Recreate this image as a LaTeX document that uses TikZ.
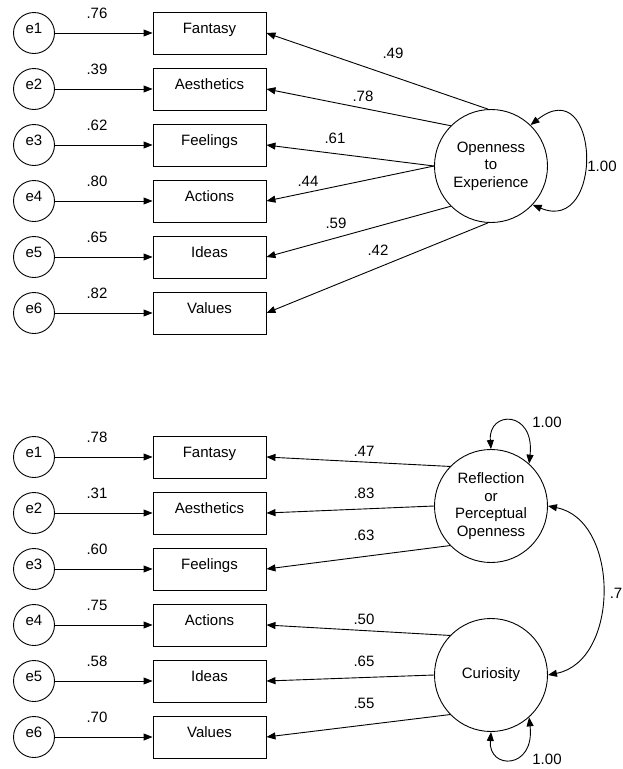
\documentclass[tikz,border=0pt]{standalone}
\usepackage{fontspec}
\setmainfont{Liberation Sans}
\usetikzlibrary{arrows.meta}

\begin{document}
\begin{tikzpicture}[x=1pt,y=-1pt,line width=0.9pt,
  >={Triangle[length=9pt,width=7pt]},
  font=\fontsize{15}{17.5}\selectfont,
  err/.style={circle,draw,minimum size=41pt,inner sep=0pt,text height=9pt,text depth=8pt},
  obs/.style={rectangle,draw,minimum width=113pt,minimum height=42pt,inner sep=0pt,text height=9pt,text depth=8pt},
  lat/.style={circle,draw,minimum size=113pt,inner sep=0pt,align=center}]
\useasboundingbox (0,0) rectangle (622,769);
%\draw[help lines,step=20](0,0)grid(622,769);
% one factor model
\node[lat] (open) at (491,166) {Openness\\to\\Experience};
\foreach \i/\lbl/\e/\lam/\ang/\lx/\ly in {1/Fantasy/.76/.49/93/393/53,2/Aesthetics/.39/.78/135/363/96,3/Feelings/.62/.61/180/335/138,4/Actions/.80/.44/180/308/181,5/Ideas/.65/.59/225/336/223,6/Values/.82/.42/267/378/250}{
  \node[err] (te\i) at (34,{33+56*(\i-1)}) {e\i};
  \node[obs] (tv\i) at (209.5,{33+56*(\i-1)}) {\lbl};
  \node (tel\i) at (97,{13+56*(\i-1)}) {\e};
  \draw[->] (te\i)--(tv\i);
  \draw[->] (open.\ang)--(tv\i.east);
  \node (tll\i) at (\lx,\ly) {\lam};
}
\draw[<->] (open.-43) .. controls (605,235) and (600,70) .. (open.46);
\node (tvar) at (602,166) {1.00};
% two factor model
\node[lat] (refl) at (491,506) {Reflection\\or\\Perceptual\\Openness};
\node[lat] (cur) at (491,675) {Curiosity};
\foreach \i/\lbl/\e/\lam/\fac/\ang/\ly in {1/Fantasy/.78/.47/refl/136/451,2/Aesthetics/.31/.83/refl/180/493,3/Feelings/.60/.63/refl/224/535,4/Actions/.75/.50/cur/136/619,5/Ideas/.58/.65/cur/180/661,6/Values/.70/.55/cur/224/703}{
  \node[err] (be\i) at (34,{457+56*(\i-1)}) {e\i};
  \node[obs] (bv\i) at (209.5,{457+56*(\i-1)}) {\lbl};
  \node (bel\i) at (97,{437+56*(\i-1)}) {\e};
  \draw[->] (be\i)--(bv\i);
  \draw[->] (\fac.\ang)--(bv\i.east);
  \node (bll\i) at (364,\ly) {\lam};
}
\draw[<->] (refl.90) .. controls (488,410) and (535,410) .. (refl.48);
\node (rvar) at (547,422) {1.00};
\draw[<->] (cur.270) .. controls (488,770) and (535,770) .. (cur.-48);
\node (cvar) at (547,759) {1.00};
\draw[<->] (refl.east) .. controls (620,520) and (620,661) .. (cur.east);
\node[anchor=west] (cov) at (606,593) {.7};
\end{tikzpicture}
\end{document}
